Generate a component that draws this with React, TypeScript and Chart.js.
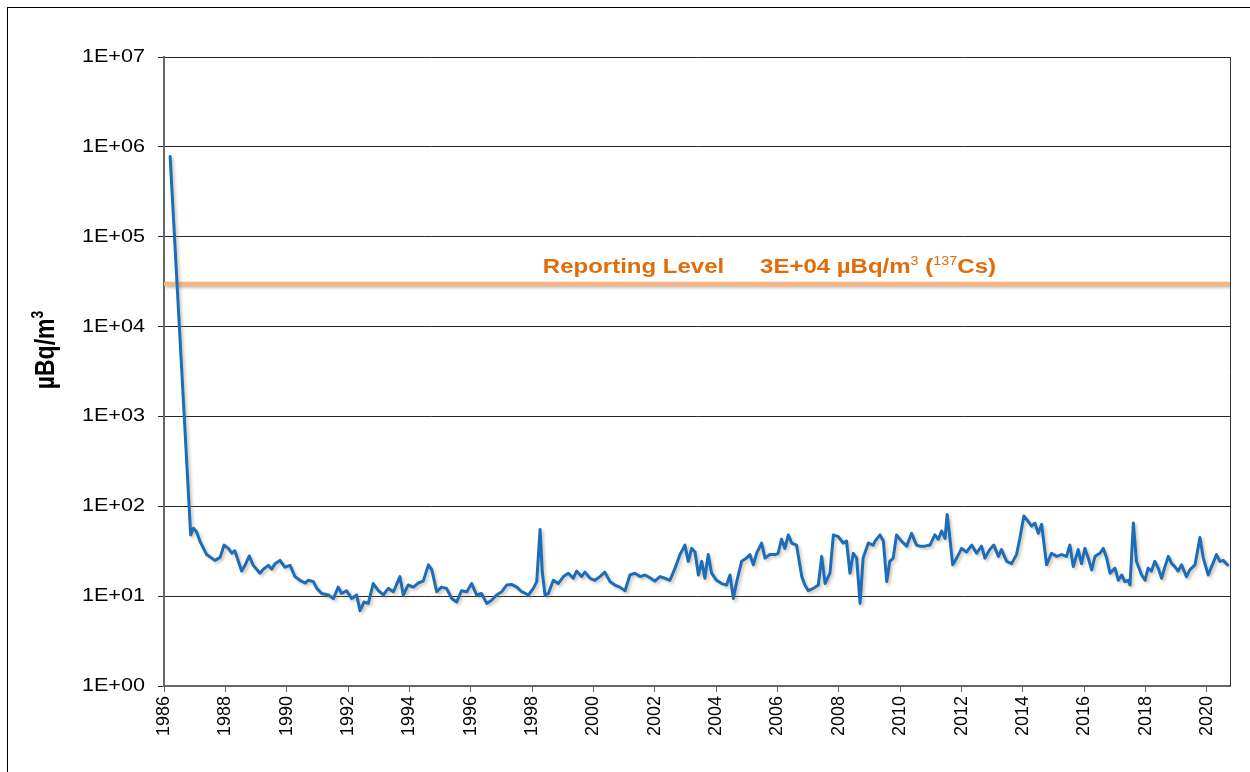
import React, { useEffect, useRef } from "react";
import { Chart, registerables } from "chart.js";

Chart.register(...registerables);

// Sampling dates (decimal years) and monthly 137Cs air concentration (µBq/m³)
const YEARS = [
  1986.2, 1986.87, 1986.96, 1987.06, 1987.17, 1987.39, 1987.66, 1987.83, 1987.96, 1988.1, 1988.21, 1988.31,
  1988.53, 1988.64, 1988.78, 1988.91, 1989.13, 1989.24, 1989.4, 1989.51, 1989.62, 1989.78, 1989.94, 1990.11,
  1990.27, 1990.43, 1990.6, 1990.7, 1990.87, 1990.98, 1991.14, 1991.36, 1991.52, 1991.68, 1991.79, 1991.95,
  1992.12, 1992.28, 1992.39, 1992.52, 1992.66, 1992.82, 1992.99, 1993.15, 1993.31, 1993.48, 1993.69, 1993.8,
  1993.96, 1994.13, 1994.29, 1994.45, 1994.62, 1994.73, 1994.89, 1995.05, 1995.21, 1995.38, 1995.54, 1995.7,
  1995.87, 1996.03, 1996.19, 1996.35, 1996.52, 1996.68, 1996.84, 1997.01, 1997.17, 1997.33, 1997.5, 1997.66,
  1997.88, 1998.04, 1998.15, 1998.26, 1998.33, 1998.42, 1998.53, 1998.69, 1998.85, 1999.02, 1999.18, 1999.34,
  1999.45, 1999.61, 1999.72, 1999.89, 2000.05, 2000.21, 2000.37, 2000.54, 2000.7, 2000.86, 2001.03, 2001.19,
  2001.35, 2001.52, 2001.68, 2001.84, 2002.0, 2002.17, 2002.33, 2002.49, 2002.66, 2002.82, 2002.98, 2003.09,
  2003.2, 2003.31, 2003.42, 2003.53, 2003.63, 2003.74, 2003.85, 2004.01, 2004.18, 2004.34, 2004.45, 2004.56,
  2004.67, 2004.83, 2004.99, 2005.1, 2005.21, 2005.32, 2005.48, 2005.59, 2005.75, 2005.92, 2006.02, 2006.13,
  2006.24, 2006.35, 2006.46, 2006.62, 2006.79, 2006.89, 2007.0, 2007.17, 2007.33, 2007.44, 2007.55, 2007.71,
  2007.82, 2007.98, 2008.14, 2008.25, 2008.36, 2008.47, 2008.58, 2008.69, 2008.79, 2008.96, 2009.12, 2009.18,
  2009.34, 2009.45, 2009.56, 2009.66, 2009.77, 2009.88, 2010.04, 2010.21, 2010.37, 2010.53, 2010.64, 2010.8,
  2010.97, 2011.13, 2011.24, 2011.35, 2011.46, 2011.53, 2011.62, 2011.71, 2011.84, 2012.0, 2012.16, 2012.33,
  2012.49, 2012.65, 2012.76, 2012.92, 2013.05, 2013.2, 2013.3, 2013.47, 2013.63, 2013.79, 2013.9, 2014.03,
  2014.17, 2014.28, 2014.39, 2014.5, 2014.61, 2014.77, 2014.93, 2015.1, 2015.26, 2015.42, 2015.53, 2015.64,
  2015.8, 2015.91, 2016.02, 2016.13, 2016.24, 2016.35, 2016.51, 2016.62, 2016.73, 2016.84, 2017.0, 2017.11,
  2017.22, 2017.32, 2017.43, 2017.49, 2017.6, 2017.7, 2017.87, 2017.98, 2018.08, 2018.19, 2018.3, 2018.41,
  2018.52, 2018.63, 2018.74, 2018.85, 2018.95, 2019.06, 2019.17, 2019.33, 2019.44, 2019.61, 2019.77, 2019.88,
  2020.04, 2020.15, 2020.31, 2020.42, 2020.53, 2020.67,
];

const CS137 = [
  780000, 48, 57, 52, 41, 29, 25, 27, 37, 34, 30, 32,
  19, 22, 28, 22, 18, 20, 22, 20, 23, 25, 21, 22,
  16.5, 15, 14, 15, 14.5, 12.2, 10.7, 10.3, 9.4, 12.6, 10.7, 11.5,
  9.4, 10.3, 6.9, 8.6, 8.3, 13.8, 11.5, 10.3, 12.2, 11.2, 16.5, 10.3,
  13.3, 12.6, 14, 14.7, 22.3, 19.6, 11.2, 12.6, 12.2, 9.4, 8.6, 11.5,
  11.2, 13.8, 10.3, 10.7, 8.3, 9, 10.3, 11.2, 13.3, 13.5, 12.6, 11.2,
  10.3, 12.2, 14.5, 55, 18.8, 10.3, 10.7, 15, 13.8, 16.5, 18, 15.8,
  19, 16.5, 18.5, 15.8, 15, 16.5, 18.5, 14.5, 13.3, 12.6, 11.5, 17.2,
  18, 16.5, 17.2, 16, 14.7, 16.5, 15.8, 15, 20.5, 29, 37, 24.4,
  34, 31, 17.2, 24.4, 15.8, 29, 18, 15, 13.8, 13.3, 17.2, 9.4,
  14.5, 24.4, 26.5, 29, 22.3, 30, 39, 26.5, 29, 29, 30, 43,
  34, 48, 39, 37, 16.5, 13.3, 11.5, 12.2, 13.3, 27.7, 13.8, 18,
  48, 46, 39, 41, 18, 30, 26.5, 8.3, 26.5, 39, 37, 41,
  48, 41, 14.5, 24.4, 26.5, 48, 41, 36, 50, 37, 36, 36,
  37, 48, 43, 53, 44, 81, 44, 22.3, 26.5, 34, 31, 37,
  30, 36, 26.5, 33, 37, 27.7, 33, 24.4, 23, 29, 44, 78,
  68, 60, 65, 50, 63, 22.3, 30, 27.7, 29, 27.7, 37, 21.3,
  33, 23, 34, 26.5, 19.6, 27.7, 30, 34, 26.5, 18, 20.5, 15,
  17.2, 14.5, 15, 13.3, 65, 24.4, 17.2, 15, 20.5, 19, 24.4, 20.5,
  15.8, 21.3, 27.7, 23, 21.3, 19, 22.3, 16.5, 19.6, 22.3, 45, 26.5,
  17.2, 21.3, 29, 24.4, 25, 22.3,
];

const X_TICKS = [1986, 1988, 1990, 1992, 1994, 1996, 1998, 2000, 2002, 2004, 2006, 2008, 2010, 2012, 2014, 2016, 2018, 2020];
const Y_TICKS = [1, 10, 100, 1000, 10000, 100000, 1000000, 10000000];
const X_MIN = 1986;
const X_MAX = 2020.75;
const REPORTING_LEVEL = 30000;
const REPORTING_X = [X_MIN, X_MAX];

const Y_TITLE = "µBq/m";
const LABEL_LEVEL = "Reporting Level";
const LABEL_VALUE = "3E+04 µBq/m";

const FONT = '"Liberation Sans", Arial, Helvetica, sans-serif';
const STRETCH = 1.2;
const ORANGE_TEXT = "#E36C0A";

function fmtPow(v: number) {
  const e = Math.round(Math.log10(v));
  return "1E+" + (e < 10 ? "0" + e : String(e));
}

type Part = { t: string; font: string; dy: number };

function drawParts(ctx: CanvasRenderingContext2D, parts: Part[], startX: number) {
  let x = startX;
  for (const p of parts) {
    ctx.font = p.font;
    ctx.fillText(p.t, x, p.dy);
    x += ctx.measureText(p.t).width;
  }
}
function partsWidth(ctx: CanvasRenderingContext2D, parts: Part[]) {
  let w = 0;
  for (const p of parts) {
    ctx.font = p.font;
    w += ctx.measureText(p.t).width;
  }
  return w;
}

const shadowPlugin = {
  id: "shadowPlugin",
  beforeDatasetDraw(chart: any, args: any) {
    const ctx = chart.ctx;
    ctx.save();
    ctx.shadowColor = args.index === 0 ? "rgba(150,130,90,0.45)" : "rgba(150,110,70,0.5)";
    ctx.shadowBlur = 3;
    ctx.shadowOffsetX = 2;
    ctx.shadowOffsetY = 2;
  },
  afterDatasetDraw(chart: any) {
    chart.ctx.restore();
  },
};

const overlayPlugin = {
  id: "overlayPlugin",
  afterDraw(chart: any) {
    const { ctx, chartArea, scales } = chart;
    const xs = scales.x;
    const ys = scales.y;
    ctx.save();
    // right frame of plot area
    ctx.strokeStyle = "#333";
    ctx.lineWidth = 1;
    const rx = Math.round(chartArea.right) + 0.5;
    ctx.beginPath();
    ctx.moveTo(rx, chartArea.top);
    ctx.lineTo(rx, chartArea.bottom);
    ctx.stroke();

    // y tick labels (horizontally stretched like the source)
    ctx.fillStyle = "#000";
    ctx.textAlign = "right";
    ctx.textBaseline = "middle";
    ctx.font = "18px " + FONT;
    for (const v of Y_TICKS) {
      const py = ys.getPixelForValue(v);
      ctx.save();
      ctx.translate(chartArea.left - 19, py);
      ctx.scale(STRETCH, 1);
      ctx.fillText(fmtPow(v), 0, 0);
      ctx.restore();
    }

    // y axis title
    ctx.textAlign = "left";
    ctx.textBaseline = "middle";
    const titleParts: Part[] = [
      { t: Y_TITLE, font: "bold 23px " + FONT, dy: 0 },
      { t: "3", font: "bold 14px " + FONT, dy: -6 },
    ];
    const tw = partsWidth(ctx, titleParts);
    ctx.save();
    ctx.translate(46, 350);
    ctx.rotate(-Math.PI / 2);
    ctx.scale(1, STRETCH);
    drawParts(ctx, titleParts, -tw / 2);
    ctx.restore();

    // reporting level annotation
    const lineY = ys.getPixelForValue(REPORTING_LEVEL);
    ctx.fillStyle = ORANGE_TEXT;
    ctx.textBaseline = "alphabetic";
    ctx.save();
    ctx.translate(xs.getPixelForValue(1998.35), lineY - 11);
    ctx.scale(STRETCH, 1);
    drawParts(ctx, [{ t: LABEL_LEVEL, font: "bold 20px " + FONT, dy: 0 }], 0);
    ctx.restore();
    ctx.save();
    ctx.translate(xs.getPixelForValue(2005.43), lineY - 11);
    ctx.scale(STRETCH, 1);
    drawParts(
      ctx,
      [
        { t: LABEL_VALUE, font: "bold 20px " + FONT, dy: 0 },
        { t: "3", font: "12px " + FONT, dy: -8 },
        { t: " (", font: "bold 20px " + FONT, dy: 0 },
        { t: "137", font: "12px " + FONT, dy: -8 },
        { t: "Cs)", font: "bold 20px " + FONT, dy: 0 },
      ],
      0
    );
    ctx.restore();
    ctx.restore();
  },
};

export default function App() {
  const ref = useRef<HTMLCanvasElement | null>(null);

  useEffect(() => {
    if (!ref.current) return;
    const chart = new Chart(ref.current, {
      type: "line",
      data: {
        datasets: [
          {
            label: "137Cs",
            data: YEARS.map((x, i) => ({ x, y: CS137[i] })),
            borderColor: "#1B6DBB",
            borderWidth: 3,
            borderJoinStyle: "round",
            borderCapStyle: "round",
            pointRadius: 0,
            tension: 0,
            fill: false,
            order: 0,
          },
          {
            label: "Reporting Level",
            data: REPORTING_X.map((x) => ({ x, y: REPORTING_LEVEL })),
            borderColor: "#F6B482",
            borderWidth: 4,
            pointRadius: 0,
            fill: false,
            order: 1,
          },
        ],
      },
      options: {
        animation: false,
        responsive: false,
        maintainAspectRatio: false,
        layout: { padding: { top: 57, right: 20, left: 0, bottom: 0 } },
        plugins: { legend: { display: false }, tooltip: { enabled: false }, title: { display: false } },
        scales: {
          x: {
            type: "linear",
            min: X_MIN,
            max: X_MAX,
            afterBuildTicks: (s: any) => {
              s.ticks = X_TICKS.map((v) => ({ value: v }));
            },
            afterFit: (s: any) => {
              s.height = 86;
            },
            ticks: {
              autoSkip: false,
              minRotation: 90,
              maxRotation: 90,
              padding: 4,
              color: "#000",
              font: { family: FONT, size: 18 },
              callback: (v: any) => String(v),
            },
            grid: { drawOnChartArea: false, drawTicks: true, tickLength: 6, color: "#666", lineWidth: 1 },
            border: { display: true, color: "#666", width: 2 },
          },
          y: {
            type: "logarithmic",
            min: 1,
            max: 10000000,
            afterBuildTicks: (s: any) => {
              s.ticks = Y_TICKS.map((v) => ({ value: v }));
            },
            afterFit: (s: any) => {
              s.width = 164;
            },
            ticks: { display: false },
            grid: { color: "#262626", lineWidth: 1, tickLength: 6, drawTicks: true },
            border: { display: true, color: "#666", width: 2 },
          },
        },
      },
      plugins: [shadowPlugin, overlayPlugin],
    } as any);
    return () => chart.destroy();
  }, []);

  return (
    <div style={{ position: "fixed", left: 0, top: 0, width: 1250, height: 772, background: "#fff", overflow: "hidden" }}>
      <div
        style={{
          position: "absolute",
          left: 7,
          top: 7,
          width: 1300,
          height: 800,
          border: "1px solid #000",
          boxSizing: "border-box",
        }}
      />
      <canvas ref={ref} width={1250} height={772} style={{ position: "absolute", left: 0, top: 0, width: 1250, height: 772 }} />
    </div>
  );
}
